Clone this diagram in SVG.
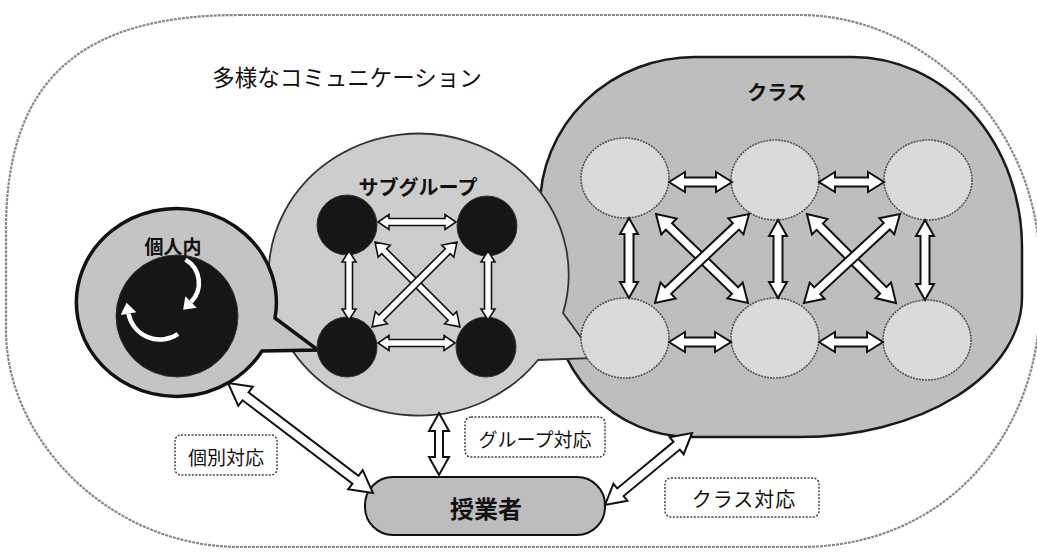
<svg xmlns="http://www.w3.org/2000/svg" width="1037" height="552" viewBox="0 0 1037 552">
<style>
text{font-family:'Noto Sans CJK JP','Noto Sans CJK SC',sans-serif;fill:#111;text-anchor:middle;dominant-baseline:central}
.b{font-weight:bold}
.arr{fill:#fff;stroke:#111;stroke-width:2;stroke-linejoin:miter}
.sarr{fill:#fff;stroke:#111;stroke-width:1.6;stroke-linejoin:miter}
.cc{fill:#dadada;stroke:#555;stroke-width:1.6;stroke-dasharray:2 1}
.bk{fill:#161616;stroke:#333;stroke-width:1}
.lbl{fill:#fff;stroke:#444;stroke-width:1.5;stroke-dasharray:2 1.5}
</style>
<rect width="1037" height="552" fill="#fff"/>
<g id="outer">
<path d="M240,15 L800,15 C920,15 1040,120 1040,270 L1040,300 C1040,430 950,547 800,547 L240,547 C110,547 6,440 6,330 L6,230 C6,80 80,15 240,15 Z" fill="none" stroke="#8a8a8a" stroke-width="2.2" stroke-dasharray="3 1"/>
<text x="347" y="76" style="font-size:22.5px">多様なコミュニケーション</text>
</g>
<g id="class">
<path d="M695,57 L852,57 A170 190 0 0 1 1022,247 L1022,297 A222 140 0 0 1 800,437 L690,437 A140 150 0 0 1 550,287 L540,207 A155 150 0 0 1 695,57 Z" fill="#bebebe" stroke="#1a1a1a" stroke-width="2.5"/>
<text class="b" x="777" y="91" style="font-size:20px">クラス</text>
</g>
<g id="subgroup">
<path d="M563,313 L596,358 L538,360 A150 141 0 1 1 563,313 Z" fill="#cdcdcd" stroke="#333" stroke-width="1.8"/>
<text class="b" x="418" y="186" style="font-size:20px">サブグループ</text>
</g>
<g id="individual">
<path d="M275,318 L318,350 L262,351 A100 94 0 1 1 275,318 Z" fill="#c4c4c4" stroke="#111" stroke-width="3.5" stroke-linejoin="miter"/>
<circle class="bk" cx="177" cy="316" r="61"/>
<path d="M185.5,259.6 A27 27 0 0 1 191,302" fill="none" stroke="#fff" stroke-width="4.5"/>
<polygon points="196.7,307.7 185.3,296.3 183.2,309.8" fill="#fff"/>
<path d="M178,334 A32 32 0 0 1 128.5,313.6" fill="none" stroke="#fff" stroke-width="4.5"/>
<polygon points="136.4,312.2 120.6,315 126.6,302.8" fill="#fff"/>
<text class="b" x="173" y="245" style="font-size:19px">個人内</text>
</g>
<g id="class-members">
<ellipse class="cc" cx="625" cy="178" rx="44" ry="40"/>
<ellipse class="cc" cx="775" cy="180" rx="44" ry="40"/>
<ellipse class="cc" cx="928" cy="180" rx="44" ry="40"/>
<ellipse class="cc" cx="625" cy="338" rx="44" ry="40"/>
<ellipse class="cc" cx="775" cy="338" rx="44" ry="40"/>
<ellipse class="cc" cx="927" cy="340" rx="44" ry="40"/>
</g>
<g id="subgroup-members">
<circle class="bk" cx="347" cy="225" r="30"/>
<circle class="bk" cx="487" cy="226" r="30"/>
<circle class="bk" cx="347" cy="347" r="30"/>
<circle class="bk" cx="486" cy="347" r="30"/>
</g>
<g id="teacher">
<rect x="365" y="477" width="240" height="58" rx="28" fill="#bdbdbd" stroke="#111" stroke-width="2"/>
<text class="b" x="486" y="507" style="font-size:24px">授業者</text>
</g>
<g id="label-individual">
<rect class="lbl" x="175" y="435" width="102" height="40" rx="6"/>
<text x="226" y="456" style="font-size:19px">個別対応</text>
</g>
<g id="label-group">
<rect class="lbl" x="465" y="417" width="140" height="40" rx="6"/>
<text x="535" y="438" style="font-size:19px">グループ対応</text>
</g>
<g id="label-class">
<rect class="lbl" x="665" y="478" width="154" height="39" rx="6"/>
<text x="744" y="498" style="font-size:20px;letter-spacing:1px">クラス対応</text>
</g>
<g id="connectors">
<polygon class="arr" transform="translate(669,182)" points="0,0 16,-10 16,-4.5 47,-4.5 47,-10 63,0 47,10 47,4.5 16,4.5 16,10"/>
<polygon class="arr" transform="translate(819,182)" points="0,0 16,-10 16,-4.5 49,-4.5 49,-10 65,0 49,10 49,4.5 16,4.5 16,10"/>
<polygon class="arr" transform="translate(669,342)" points="0,0 16,-10 16,-4.5 46,-4.5 46,-10 62,0 46,10 46,4.5 16,4.5 16,10"/>
<polygon class="arr" transform="translate(819,342)" points="0,0 16,-10 16,-4.5 48,-4.5 48,-10 64,0 48,10 48,4.5 16,4.5 16,10"/>
<polygon class="arr" transform="translate(629,218) rotate(90)" points="0,0 16,-9 16,-4.5 64,-4.5 64,-9 80,0 64,9 64,4.5 16,4.5 16,9"/>
<polygon class="arr" transform="translate(778,220) rotate(90)" points="0,0 16,-9 16,-4.5 62,-4.5 62,-9 78,0 62,9 62,4.5 16,4.5 16,9"/>
<polygon class="arr" transform="translate(925,220) rotate(90)" points="0,0 16,-9 16,-4.5 64,-4.5 64,-9 80,0 64,9 64,4.5 16,4.5 16,9"/>
<polygon class="arr" transform="translate(656,214) rotate(44.05)" points="0,0 18,-11 18,-4.5 110,-4.5 110,-11 128,0 110,11 110,4.5 18,4.5 18,11"/>
<polygon class="arr" transform="translate(749,214) rotate(136.6)" points="0,0 18,-11 18,-4.5 111.4,-4.5 111.4,-11 129.4,0 111.4,11 111.4,4.5 18,4.5 18,11"/>
<polygon class="arr" transform="translate(807,214) rotate(45)" points="0,0 18,-11 18,-4.5 107.9,-4.5 107.9,-11 125.9,0 107.9,11 107.9,4.5 18,4.5 18,11"/>
<polygon class="arr" transform="translate(900,214) rotate(137.2)" points="0,0 18,-11 18,-4.5 112.9,-4.5 112.9,-11 130.9,0 112.9,11 112.9,4.5 18,4.5 18,11"/>
<polygon class="sarr" transform="translate(378,222)" points="0,0 11,-7.5 11,-3.5 67,-3.5 67,-7.5 78,0 67,7.5 67,3.5 11,3.5 11,7.5"/>
<polygon class="sarr" transform="translate(378,343)" points="0,0 11,-7.5 11,-3.5 66,-3.5 66,-7.5 77,0 66,7.5 66,3.5 11,3.5 11,7.5"/>
<polygon class="sarr" transform="translate(349,251) rotate(90)" points="0,0 11,-7 11,-3.5 58,-3.5 58,-7 69,0 58,7 58,3.5 11,3.5 11,7"/>
<polygon class="sarr" transform="translate(488,251) rotate(90)" points="0,0 11,-7 11,-3.5 58,-3.5 58,-7 69,0 58,7 58,3.5 11,3.5 11,7"/>
<polygon class="sarr" transform="translate(375,242) rotate(45)" points="0,0 13,-8.5 13,-3.5 107,-3.5 107,-8.5 120,0 107,8.5 107,3.5 13,3.5 13,8.5"/>
<polygon class="sarr" transform="translate(457,242) rotate(135)" points="0,0 13,-8.5 13,-3.5 107,-3.5 107,-8.5 120,0 107,8.5 107,3.5 13,3.5 13,8.5"/>
<polygon class="arr" transform="translate(228,383) rotate(37.2)" points="0,0 22,-12 22,-5 160,-5 160,-12 182,0 160,12 160,5 22,5 22,12"/>
<polygon class="arr" transform="translate(439,413) rotate(90)" points="0,0 18,-10 18,-4 44,-4 44,-10 62,0 44,10 44,4 18,4 18,10"/>
<polygon class="arr" transform="translate(605,505) rotate(-39.6)" points="0,0 20,-11 20,-5 93,-5 93,-11 113,0 93,11 93,5 20,5 20,11"/>
</g>
</svg>
